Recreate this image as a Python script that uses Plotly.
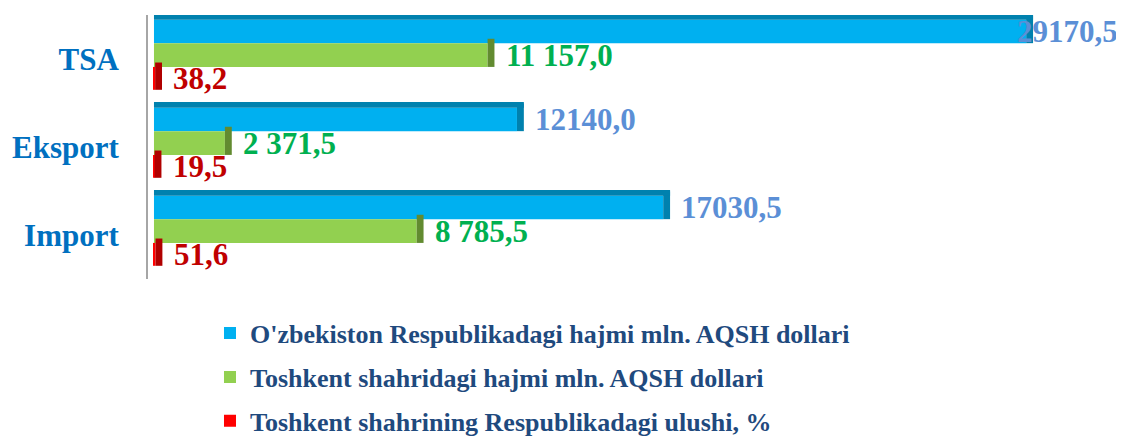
import plotly.graph_objects as go

# ---- data ----
categories = ["Import", "Eksport", "TSA"]
uzb_values = [17030.5, 12140.0, 29170.5]
tash_values = [8785.5, 2371.5, 11157.0]
share_values = [51.6, 19.5, 38.2]
uzb_labels = ["17030,5", "12140,0", "29170,5"]
tash_labels = ["8 785,5", "2 371,5", "11 157,0"]
share_labels = ["51,6", "19,5", "38,2"]
series_names = [
    "O'zbekiston Respublikadagi hajmi mln. AQSH dollari",
    "Toshkent shahridagi hajmi mln. AQSH dollari",
    "Toshkent shahrining Respublikadagi ulushi, %",
]

# ---- styling ----
FONT = "Liberation Serif"
X_MIN, X_MAX = -200, 32308
DEPTH = 230  # 3D end-face depth, in axis units
FIG_W, FIG_H = 1116, 431  # page body adds an 8px margin

series = [
    # values, labels, name, face colour, side colour, label colour, offset, width
    (uzb_values, uzb_labels, series_names[0], "#00B0F0", "#0081AE", "#5B8FD6", 0.18, 0.265),
    (tash_values, tash_labels, series_names[1], "#92D050", "#628B30", "#00B050", -0.09, 0.27),
    (share_values, share_labels, series_names[2], "#FF0000", "#B00000", "#C00000", -0.35, 0.26),
]

fig = go.Figure()

# main faces (legend entries)
for k, (vals, labs, name, col, side, lcol, off, w) in enumerate(series):
    fig.add_trace(go.Bar(
        y=categories, x=vals, orientation="h", name=name, legendgroup=f"g{k}",
        marker=dict(color=col, line=dict(width=0)),
        offset=off, width=w, hoverinfo="x+y",
    ))

# 3D end faces
for k, (vals, labs, name, col, side, lcol, off, w) in enumerate(series):
    fig.add_trace(go.Bar(
        y=categories, x=[DEPTH] * len(vals), base=vals, orientation="h",
        legendgroup=f"g{k}",
        marker=dict(color=side, line=dict(width=0)),
        offset=off, width=w + 0.05, showlegend=False, hoverinfo="skip",
    ))

# 3D top cap of the blue bars
fig.add_trace(go.Bar(
    y=categories, x=[v + DEPTH for v in uzb_values], orientation="h",
    legendgroup="g0",
    marker=dict(color="#0081AE", line=dict(width=0)),
    offset=0.445, width=0.065, showlegend=False, hoverinfo="skip",
))

# value labels
annotations = []
for vals, labs, name, col, side, lcol, off, w in series:
    for i, (v, t) in enumerate(zip(vals, labs)):
        yc = i + off + w / 2
        if v > 0.85 * X_MAX:
            ann = dict(x=X_MAX, xanchor="right", xshift=0)
        else:
            ann = dict(x=v, xanchor="left", xshift=16)
        ann.update(
            y=yc, xref="x", yref="y", yanchor="middle", text=t, showarrow=False,
            font=dict(family=FONT, size=31, color=lcol, weight="bold"),
        )
        annotations.append(ann)

fig.update_layout(
    width=FIG_W, height=FIG_H,
    barmode="overlay",
    plot_bgcolor="white", paper_bgcolor="white",
    margin=dict(l=140, r=4, t=7, b=160, autoexpand=False),
    xaxis=dict(range=[X_MIN, X_MAX], showgrid=False, zeroline=False,
               showticklabels=False, showline=False, fixedrange=True,
               automargin=False),
    yaxis=dict(type="category", categoryorder="array", categoryarray=categories,
               range=[-0.5, 2.5], showgrid=False, zeroline=False,
               showline=True, linecolor="#A6A6A6", linewidth=2,
               ticks="", ticklabelstandoff=21, automargin=False,
               tickfont=dict(family=FONT, size=31, color="#0070C0", weight="bold")),
    legend=dict(
        xref="container", yref="container", x=0.181, y=0.300,
        xanchor="left", yanchor="top",
        orientation="v", traceorder="grouped", tracegroupgap=7,
        font=dict(family=FONT, size=26, color="#1F4A7E", weight="bold"),
        bgcolor="rgba(0,0,0,0)",
    ),
    annotations=annotations,
    showlegend=True,
)

fig.write_html("out.html")
